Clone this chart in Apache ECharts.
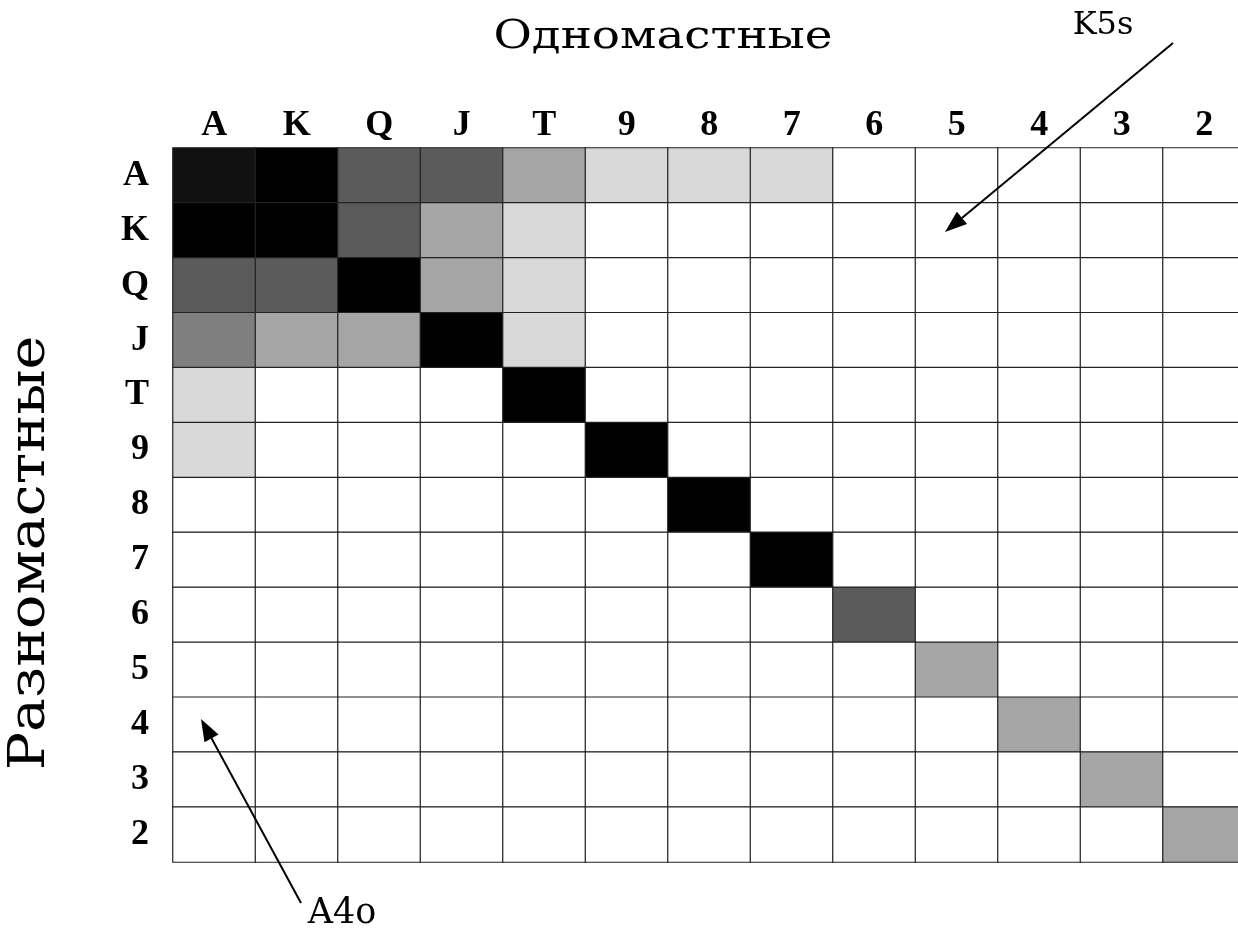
<!DOCTYPE html>
<html>
<head>
<meta charset="utf-8">
<script src="https://cdn.jsdelivr.net/npm/echarts@6/dist/echarts.min.js"></script>
<style>
html,body{margin:0;padding:0;background:#fff;}
#chart{width:1238px;height:930px;}
</style>
</head>
<body>
<div id="chart"></div>
<script>
// Card ranks (columns = suited side, rows = offsuit side)
var ranks = ['A','K','Q','J','T','9','8','7','6','5','4','3','2'];
// Shade level per cell (0 = white ... 6 = black), one array per row
var rowA = [5,6,4,4,2,1,1,1,0,0,0,0,0];
var rowK = [6,6,4,2,1,0,0,0,0,0,0,0,0];
var rowQ = [4,4,6,2,1,0,0,0,0,0,0,0,0];
var rowJ = [3,2,2,6,1,0,0,0,0,0,0,0,0];
var rowT = [1,0,0,0,6,0,0,0,0,0,0,0,0];
var row9 = [1,0,0,0,0,6,0,0,0,0,0,0,0];
var row8 = [0,0,0,0,0,0,6,0,0,0,0,0,0];
var row7 = [0,0,0,0,0,0,0,6,0,0,0,0,0];
var row6 = [0,0,0,0,0,0,0,0,4,0,0,0,0];
var row5 = [0,0,0,0,0,0,0,0,0,2,0,0,0];
var row4 = [0,0,0,0,0,0,0,0,0,0,2,0,0];
var row3 = [0,0,0,0,0,0,0,0,0,0,0,2,0];
var row2 = [0,0,0,0,0,0,0,0,0,0,0,0,2];
var rows = [rowA,rowK,rowQ,rowJ,rowT,row9,row8,row7,row6,row5,row4,row3,row2];
var levelColors = ['#ffffff','#d9d9d9','#a5a5a5','#7f7f7f','#5b5b5b','#111111','#000000'];
var titleTop = 'Одномастные';
var titleLeft = 'Разномастные';
var noteSuited = 'K5s';
var noteOffsuit = 'A4o';

var data = [];
rows.forEach(function(r, yi){
  r.forEach(function(v, xi){ data.push([xi, yi, v]); });
});

var chart = echarts.init(document.getElementById('chart'), null, {renderer:'canvas'});

function arrow(tail, tip, len, half){
  var dx = tip[0]-tail[0], dy = tip[1]-tail[1];
  var L = Math.sqrt(dx*dx+dy*dy); var ux = dx/L, uy = dy/L;
  var bx = tip[0]-ux*len, by = tip[1]-uy*len;
  return [
    {type:'line', shape:{x1:tail[0],y1:tail[1],x2:bx,y2:by}, style:{stroke:'#000',lineWidth:2}, z:100},
    {type:'polygon', shape:{points:[tip,[bx-uy*half,by+ux*half],[bx+uy*half,by-ux*half]]}, style:{fill:'#000'}, z:100}
  ];
}

var serif = '"Liberation Serif", serif';
var bigSerif = '"DejaVu Serif", "Liberation Serif", serif';
var graphics = [
  {type:'text', x:663, y:38, scaleX:1.2, style:{text:titleTop, font:'39px '+bigSerif, fill:'#000', align:'center', verticalAlign:'middle'}},
  {type:'text', x:31, y:553, rotation:Math.PI/2, scaleX:1.14, style:{text:titleLeft, font:'50px '+bigSerif, fill:'#000', align:'center', verticalAlign:'middle'}},
  {type:'text', x:1103, y:26, style:{text:noteSuited, font:'32px '+bigSerif, fill:'#000', align:'center', verticalAlign:'middle'}},
  {type:'text', x:342, y:914, style:{text:noteOffsuit, font:'35px '+bigSerif, fill:'#000', align:'center', verticalAlign:'middle'}}
].concat(arrow([1173,43],[945,232],22,8)).concat(arrow([301,903],[201,719],22,8));

chart.setOption({
  animation:false,
  backgroundColor:'#fff',
  grid:{left:173, top:148, width:1072.5, height:714, outerBoundsMode:'none'},
  xAxis:{type:'category', data:ranks, position:'top',
    axisLine:{show:false}, axisTick:{show:false}, splitLine:{show:false},
    axisLabel:{margin:4, color:'#000', fontSize:36, fontWeight:'bold', fontFamily:serif}},
  yAxis:{type:'category', data:ranks, inverse:true,
    axisLine:{show:false}, axisTick:{show:false}, splitLine:{show:false},
    axisLabel:{margin:24, color:'#000', fontSize:36, fontWeight:'bold', fontFamily:serif}},
  visualMap:{show:false, type:'piecewise', dimension:2,
    pieces:levelColors.map(function(c,i){return {value:i, color:c};})},
  series:[{type:'heatmap', data:data,
    itemStyle:{borderColor:'#222', borderWidth:1.2},
    emphasis:{disabled:true}}],
  graphic:graphics
});
</script>
</body>
</html>
